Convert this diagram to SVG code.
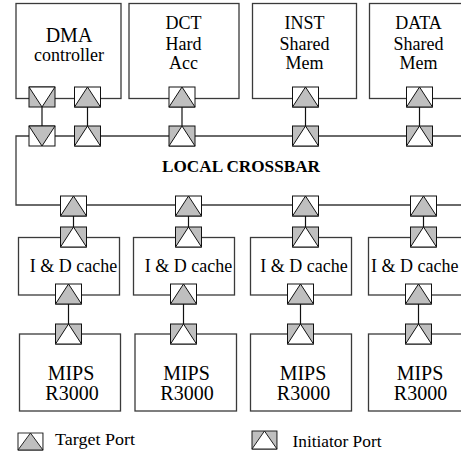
<svg xmlns="http://www.w3.org/2000/svg" xmlns:xlink="http://www.w3.org/1999/xlink" width="461" height="454" viewBox="0 0 461 454" font-family="'Liberation Serif', 'Times New Roman', Times, 'DejaVu Serif', serif">
<style>
.box{fill:#fff;stroke:#3a3a3a;stroke-width:1.3}
.bus{fill:none;stroke:#3a3a3a;stroke-width:1.3}
.wire{fill:none;stroke:#111;stroke-width:1.2}
text{font-family:'Liberation Serif','Times New Roman',Times,'DejaVu Serif',serif}
.t{fill:#000;text-anchor:middle}
.lg{fill:#000}
.ps{stroke:#111;stroke-width:1}
</style>
<defs>
<g id="tgtU"><rect class="ps" x="0" y="0" width="26" height="20" fill="#fff"/><polygon class="ps" points="13,0 0,20 26,20" fill="#bfbfbf"/></g>
<g id="iniU"><rect class="ps" x="0" y="0" width="26" height="20" fill="#bfbfbf"/><polygon class="ps" points="13,0 0,20 26,20" fill="#fff"/></g>
<g id="tgtD"><rect class="ps" x="0" y="0" width="26" height="20" fill="#fff"/><polygon class="ps" points="0,0 26,0 13,20" fill="#bfbfbf"/></g>
<g id="iniD"><rect class="ps" x="0" y="0" width="26" height="20" fill="#bfbfbf"/><polygon class="ps" points="0,0 26,0 13,20" fill="#fff"/></g>
</defs>

<g id="connectors">
<line class="wire" x1="42" y1="107" x2="42" y2="126"/>
<line class="wire" x1="87.5" y1="107" x2="87.5" y2="126"/>
<line class="wire" x1="182" y1="107" x2="182" y2="126"/>
<line class="wire" x1="305.5" y1="107" x2="305.5" y2="126"/>
<line class="wire" x1="419.5" y1="107" x2="419.5" y2="126"/>
<line class="wire" x1="73.5" y1="216" x2="73.5" y2="227"/>
<line class="wire" x1="188.5" y1="216" x2="188.5" y2="227"/>
<line class="wire" x1="305.5" y1="216" x2="305.5" y2="227"/>
<line class="wire" x1="423.5" y1="216" x2="423.5" y2="227"/>
<line class="wire" x1="68.5" y1="304" x2="68.5" y2="324"/>
<line class="wire" x1="183.5" y1="304" x2="183.5" y2="324"/>
<line class="wire" x1="300.5" y1="304" x2="300.5" y2="324"/>
<line class="wire" x1="418.5" y1="304" x2="418.5" y2="324"/>
</g>

<g id="dma">
<rect class="box" x="16" y="3.5" width="105" height="95"/>
<text class="t" x="69" y="41.5" font-size="20">DMA</text>
<text class="t" x="69" y="61" font-size="18">controller</text>
<use xlink:href="#iniD" x="29" y="87"/>
<use xlink:href="#tgtU" x="74.5" y="87"/>
</g>

<g id="dct">
<rect class="box" x="129" y="3.5" width="110" height="95"/>
<text class="t" x="183.5" y="29" font-size="18">DCT</text>
<text class="t" x="183.5" y="50" font-size="18">Hard</text>
<text class="t" x="183.5" y="68.5" font-size="18">Acc</text>
<use xlink:href="#tgtU" x="169" y="87"/>
</g>

<g id="inst">
<rect class="box" x="252.5" y="3.5" width="104" height="95"/>
<text class="t" x="304.5" y="29" font-size="18">INST</text>
<text class="t" x="304.5" y="50" font-size="18">Shared</text>
<text class="t" x="304.5" y="68.5" font-size="18">Mem</text>
<use xlink:href="#tgtU" x="292.5" y="87"/>
</g>

<g id="data">
<rect class="box" x="369.5" y="3.5" width="100" height="95"/>
<text class="t" x="418.5" y="29" font-size="18">DATA</text>
<text class="t" x="418.5" y="50" font-size="18">Shared</text>
<text class="t" x="418.5" y="68.5" font-size="18">Mem</text>
<use xlink:href="#tgtU" x="406.5" y="87"/>
</g>

<g id="crossbar">
<polyline class="bus" points="470,136 16,136 16,205 470,205"/>
<text class="t" x="241" y="171.5" font-size="16" font-weight="bold" textLength="158" lengthAdjust="spacingAndGlyphs">LOCAL CROSSBAR</text>
<use xlink:href="#tgtD" x="29" y="126"/>
<use xlink:href="#iniU" x="74.5" y="126"/>
<use xlink:href="#iniU" x="169" y="126"/>
<use xlink:href="#iniU" x="292.5" y="126"/>
<use xlink:href="#iniU" x="406.5" y="126"/>
<use xlink:href="#tgtU" x="60.5" y="196"/>
<use xlink:href="#tgtU" x="175.5" y="196"/>
<use xlink:href="#tgtU" x="292.5" y="196"/>
<use xlink:href="#tgtU" x="410.5" y="196"/>
</g>

<g id="cache1">
<rect class="box" x="18.5" y="237.5" width="101" height="57.5"/>
<text class="t" x="73.5" y="271.5" font-size="18">I &amp; D cache</text>
<use xlink:href="#iniU" x="60.5" y="227"/>
<use xlink:href="#tgtU" x="55.5" y="284"/>
</g>
<g id="cache2">
<rect class="box" x="133.5" y="237.5" width="101" height="57.5"/>
<text class="t" x="188.5" y="271.5" font-size="18">I &amp; D cache</text>
<use xlink:href="#iniU" x="175.5" y="227"/>
<use xlink:href="#tgtU" x="170.5" y="284"/>
</g>
<g id="cache3">
<rect class="box" x="250.5" y="237.5" width="101" height="57.5"/>
<text class="t" x="304" y="271.5" font-size="18">I &amp; D cache</text>
<use xlink:href="#iniU" x="292.5" y="227"/>
<use xlink:href="#tgtU" x="287.5" y="284"/>
</g>
<g id="cache4">
<rect class="box" x="368.5" y="237.5" width="101" height="57.5"/>
<text class="lg" x="371" y="271.5" font-size="18">I &amp; D cache</text>
<use xlink:href="#iniU" x="410.5" y="227"/>
<use xlink:href="#tgtU" x="405.5" y="284"/>
</g>

<g id="mips1">
<rect class="box" x="19.5" y="334" width="101" height="77"/>
<text class="t" x="71" y="379.5" font-size="20">MIPS</text>
<text class="t" x="72" y="399.5" font-size="20">R3000</text>
<use xlink:href="#iniU" x="55.5" y="324"/>
</g>
<g id="mips2">
<rect class="box" x="135" y="334" width="101.5" height="77"/>
<text class="t" x="186.5" y="379.5" font-size="20">MIPS</text>
<text class="t" x="187" y="399.5" font-size="20">R3000</text>
<use xlink:href="#iniU" x="170.5" y="324"/>
</g>
<g id="mips3">
<rect class="box" x="250.5" y="334" width="101" height="77"/>
<text class="t" x="303" y="379.5" font-size="20">MIPS</text>
<text class="t" x="303.5" y="399.5" font-size="20">R3000</text>
<use xlink:href="#iniU" x="287.5" y="324"/>
</g>
<g id="mips4">
<rect class="box" x="368.5" y="334" width="101" height="77"/>
<text class="t" x="420" y="379.5" font-size="20">MIPS</text>
<text class="t" x="420.5" y="399.5" font-size="20">R3000</text>
<use xlink:href="#iniU" x="405.5" y="324"/>
</g>

<g id="legend">
<g transform="translate(18,433) scale(0.96,0.85)"><use xlink:href="#tgtU"/></g>
<text class="lg" x="55" y="444.5" font-size="17" textLength="80" lengthAdjust="spacingAndGlyphs">Target Port</text>
<g transform="translate(252,431) scale(0.96,0.9)"><use xlink:href="#iniU"/></g>
<text class="lg" x="292.5" y="446.5" font-size="17" textLength="89" lengthAdjust="spacingAndGlyphs">Initiator Port</text>
</g>
</svg>
